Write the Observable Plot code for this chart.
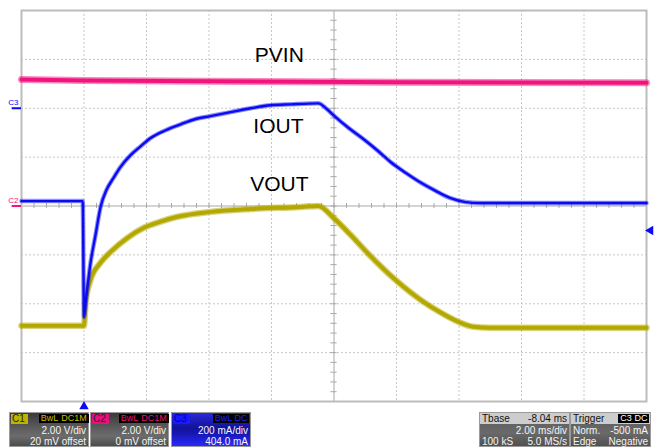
<!DOCTYPE html>
<html><head><meta charset="utf-8">
<script src="https://cdn.jsdelivr.net/npm/d3@7"></script>
<script src="https://cdn.jsdelivr.net/npm/@observablehq/plot@0.6"></script>
<style>
html,body{margin:0;padding:0;background:#fff;}
#wrap{position:relative;width:654px;height:448px;overflow:hidden;font-family:"Liberation Sans",Arial,sans-serif;}
#wrap svg{position:absolute;left:0;top:0;}
.box{position:absolute;top:412px;height:35px;box-sizing:border-box;border:1px solid #9a9a9a;color:#f4f4f4;font-size:10px;line-height:11px;}
.row{position:absolute;left:0;right:2px;height:11px;white-space:nowrap;}
.r1{top:0;}.r2{top:12px;}.r3{top:23px;}
.lab{position:absolute;top:0;height:10px;line-height:10px;padding:0 1px;}
.tag{position:absolute;top:1px;height:9px;line-height:9px;background:#000;padding:0 1px;font-size:9px;}
.rt{position:absolute;right:0;}
.lt{position:absolute;left:2px;}
</style></head>
<body><div id="wrap"></div>
<script>
// time in ms (trigger at 0), vertical position in screen divisions (0 = centre)
const pvinT = [-2, 0, 4, 10, 18];
const pvinV = [2.59, 2.57, 2.55, 2.53, 2.52];

const ioutT = [-2, -0.04, 0, 0.08, 0.21, 0.37, 0.53, 0.72, 0.94, 1.17, 1.49, 1.81, 2.13, 2.61, 3.09, 3.57, 4.05, 4.69, 5.33, 5.97, 6.61, 7.50, 7.76, 7.98, 8.46, 8.94, 9.42, 9.81, 10.29, 10.77, 11.25, 11.73, 12.21, 12.69, 18];
const ioutV = [0.10, 0.10, -2.27, -1.82, -1.16, -0.59, -0.02, 0.33, 0.57, 0.80, 1.04, 1.22, 1.39, 1.55, 1.67, 1.78, 1.84, 1.92, 2.00, 2.06, 2.08, 2.10, 1.99, 1.86, 1.60, 1.37, 1.12, 0.90, 0.68, 0.48, 0.31, 0.16, 0.08, 0.06, 0.06];

const voutT = [-2, 0, 0.05, 0.21, 0.53, 0.85, 1.39, 1.90, 2.45, 2.99, 4.05, 5.33, 6.93, 7.50, 7.98, 8.53, 9.13, 10.0, 10.77, 11.41, 11.98, 12.46, 13.01, 18];
const voutV = [-2.45, -2.45, -1.98, -1.51, -1.16, -0.94, -0.65, -0.45, -0.32, -0.22, -0.12, -0.06, -0.02, 0.0, -0.24, -0.59, -1.0, -1.53, -1.92, -2.18, -2.37, -2.47, -2.49, -2.49];

const traceNames = ["PVIN", "IOUT", "VOUT"];
const labelT = [6.25, 6.22, 6.25];
const labelV = [3.08, 1.63, 0.45];

const gridX = [0, 2, 4, 6, 10, 12, 14, 16];
const gridY = [-3, -2, -1, 1, 2, 3];
const centreT = 8;
const c3Ground = 2, c2Ground = 0, trigLevel = -0.5, trigTime = 0;

const COL = {pvin: "#f2147e", iout: "#0a0af5", vout: "#b3a800", grid: "#c8c8c8", axis: "#a8a8a8"};

const pv = pvinT.map((t, i) => ({t, v: pvinV[i]}));
const io = ioutT.map((t, i) => ({t, v: ioutV[i]}));
const vo = voutT.map((t, i) => ({t, v: voutV[i]}));
const labels = traceNames.map((n, i) => ({n, t: labelT[i], v: labelV[i]}));
const minorX = d3.range(-2, 18.001, 0.4).map(t => ({t}));
const minorY = d3.range(-4, 4.001, 0.2).map(v => ({v}));

const chart = Plot.plot({
  width: 654, height: 448,
  marginLeft: 21, marginRight: 8, marginTop: 10, marginBottom: 47,
  x: {domain: [-2, 18], axis: null},
  y: {domain: [-4, 4], axis: null},
  style: {background: "transparent", fontFamily: "Liberation Sans, Arial, sans-serif"},
  marks: [
    Plot.ruleX(gridX, {stroke: COL.grid, strokeDasharray: "2,2", strokeWidth: 1}),
    Plot.ruleY(gridY, {stroke: COL.grid, strokeDasharray: "2,2", strokeWidth: 1}),
    Plot.ruleX([centreT], {stroke: COL.axis, strokeWidth: 1}),
    Plot.ruleY([0], {stroke: COL.axis, strokeWidth: 1}),
    Plot.ruleX(minorX, {x: "t", y1: -0.05, y2: 0.05, stroke: COL.axis}),
    Plot.ruleY(minorY, {y: "v", x1: centreT - 0.1, x2: centreT + 0.1, stroke: COL.axis}),
    Plot.frame({stroke: "#bcbcbc", strokeWidth: 2}),
    Plot.line(pv, {x: "t", y: "v", stroke: COL.pvin, strokeWidth: 7, strokeOpacity: 0.5}),
    Plot.line(pv, {x: "t", y: "v", stroke: COL.pvin, strokeWidth: 4}),
    Plot.line(vo, {x: "t", y: "v", curve: "monotone-x", stroke: COL.vout, strokeWidth: 6.5, strokeOpacity: 0.5}),
    Plot.line(vo, {x: "t", y: "v", curve: "monotone-x", stroke: COL.vout, strokeWidth: 4}),
    Plot.line(io, {x: "t", y: "v", curve: "monotone-x", stroke: COL.iout, strokeWidth: 4.5, strokeOpacity: 0.45}),
    Plot.line(io, {x: "t", y: "v", curve: "monotone-x", stroke: COL.iout, strokeWidth: 2.4}),
    Plot.text(labels, {x: "t", y: "v", text: "n", fontSize: 21, fill: "#000", lineAnchor: "middle"}),
    // channel ground markers on the left
    Plot.text([{v: c3Ground, n: "C3"}], {x: -2, y: "v", text: "n", dx: -3, dy: -6, textAnchor: "end", fontSize: 8, fill: COL.iout}),
    Plot.ruleY([c3Ground], {x1: -2.3, x2: -2, stroke: COL.iout, strokeWidth: 2}),
    Plot.text([{v: c2Ground, n: "C2"}], {x: -2, y: "v", text: "n", dx: -3, dy: -6, textAnchor: "end", fontSize: 8, fill: COL.pvin}),
    Plot.ruleY([c2Ground], {x1: -2.3, x2: -2, stroke: COL.pvin, strokeWidth: 2}),
    // trigger level (right) and trigger time (bottom) markers
    Plot.dot([{t: 18, v: trigLevel}], {x: "t", y: "v", symbol: "triangle", rotate: -90, r: 3.5, dx: 4, fill: COL.iout, stroke: "none"}),
    Plot.dot([{t: trigTime, v: -4}], {x: "t", y: "v", symbol: "triangle", r: 3.5, dy: 5, fill: COL.iout, stroke: "none"})
  ]
});
const wrap = document.getElementById("wrap");
wrap.appendChild(chart);

function tag(left, txt, bg, fg, w) {
  return `<span class="tag" style="left:${left}px;width:${w}px;background:${bg};color:${fg};text-align:center">${txt}</span>`;
}
const boxes = [
  {left: 9, width: 80, bg: "linear-gradient(#3a3a3a,#5c5c5c 45%,#6c6c6c 70%,#4c4c4c)",
   r1: `<span class="lab" style="left:1px;top:1px;background:#bdb200;color:#222;width:15px">C1</span>` + tag(29, "BwL", "#000", "#c8bd00", 19) + tag(49, "DC1M", "#000", "#c8bd00", 28),
   r2: "2.00 V/div", r3: "20 mV offset"},
  {left: 90, width: 79, bg: "linear-gradient(#3a3a3a,#5c5c5c 45%,#6c6c6c 70%,#4c4c4c)",
   r1: `<span class="lab" style="left:1px;top:1px;background:#e8107c;color:#222;width:15px">C2</span>` + tag(28, "BwL", "#000", "#e8107c", 19) + tag(48, "DC1M", "#000", "#e8107c", 28),
   r2: "2.00 V/div", r3: "0 mV offset"},
  {left: 171, width: 80, bg: "linear-gradient(#2a2ad8,#12129a 45%,#1818b8 65%,#2a2aff)",
   r1: `<span class="lab" style="left:1px;top:1px;background:#1a1aff;color:#0000a0;width:15px">C3</span>` + tag(41, "BwL", "#000", "#2020ff", 19) + tag(61, "DC", "#000", "#2020ff", 14),
   r2: "200 mA/div", r3: "404.0 mA"}
];
let html = "";
for (const b of boxes) {
  html += `<div class="box" style="left:${b.left}px;width:${b.width}px;background:${b.bg}">
    <div class="row r1">${b.r1}</div>
    <div class="row r2"><span class="rt">${b.r2}</span></div>
    <div class="row r3"><span class="rt">${b.r3}</span></div></div>`;
}
// Tbase box
html += `<div class="box" style="left:479px;width:91px;background:linear-gradient(#5a5a5a,#6a6a6a 60%,#505050)">
  <div class="row r1" style="background:#cdcdcd;color:#111;right:0;top:0;height:11px"><span class="lt">Tbase</span><span class="rt" style="right:2px">-8.04 ms</span></div>
  <div class="row r2"><span class="rt">2.00 ms/div</span></div>
  <div class="row r3"><span class="lt">100 kS</span><span class="rt">5.0 MS/s</span></div></div>`;
// Trigger box
html += `<div class="box" style="left:570px;width:81px;background:linear-gradient(#5a5a5a,#6a6a6a 60%,#505050)">
  <div class="row r1" style="background:#cdcdcd;color:#111;right:0;top:0;height:11px"><span class="lt">Trigger</span>${tag(47, "C3", "#000", "#fff", 14)}${tag(62, "DC", "#000", "#fff", 14)}</div>
  <div class="row r2"><span class="lt">Norm.</span><span class="rt">-500 mA</span></div>
  <div class="row r3"><span class="lt">Edge</span><span class="rt">Negative</span></div></div>`;
const bar = document.createElement("div");
bar.innerHTML = html;
wrap.appendChild(bar);
</script></body></html>
